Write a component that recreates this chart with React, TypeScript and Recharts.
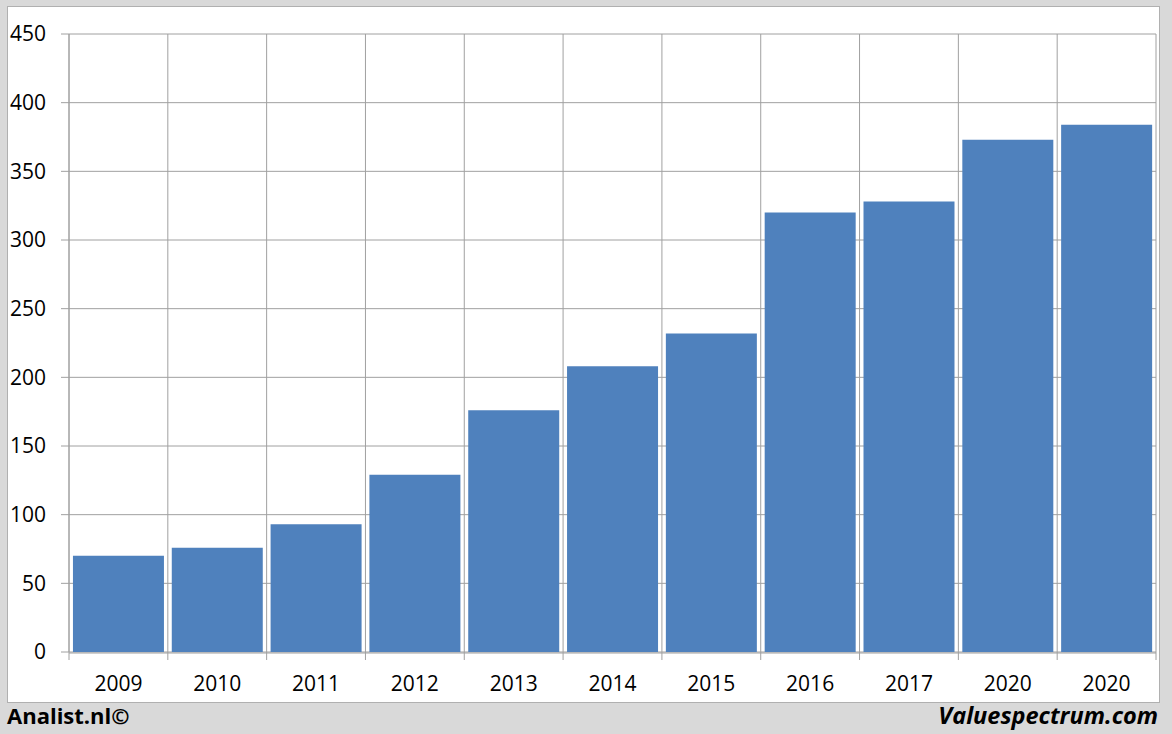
import React from "react";
import { BarChart, Bar, XAxis, YAxis, CartesianGrid } from "recharts";

const years = ["2009", "2010", "2011", "2012", "2013", "2014", "2015", "2016", "2017", "2020", "2020"];
const values = [70, 76, 93, 129, 176, 208, 232, 320, 328, 373, 384];
const yTicks = [0, 50, 100, 150, 200, 250, 300, 350, 400, 450];
const boundaryTicks = [0, 1, 2, 3, 4, 5, 6, 7, 8, 9, 10, 11];

const data = years.map((y, i) => ({ idx: i, label: y, value: values[i] }));

const FONT = "'Open Sans', 'Liberation Sans', sans-serif";
const GRID = "#a0a0a0";

const EmptyTick = () => <g />;

export default function App() {
  return (
    <div style={{ position: "fixed", left: 0, top: 0, width: 1172, height: 734, background: "#d9d9d9", overflow: "hidden", fontFamily: FONT }}>
      <div style={{ position: "absolute", left: 7, top: 6, width: 1151, height: 695, background: "#fff", border: "1px solid #b0b0b0" }} />
      <div style={{ position: "absolute", left: 0, top: 0 }}>
        <BarChart width={1172} height={734} data={data} margin={{ top: 34, right: 16, left: 9, bottom: 42 }} barCategoryGap="4%">
          <CartesianGrid
            xAxisId="a"
            stroke={GRID}
            strokeWidth={1}
            verticalCoordinatesGenerator={({ offset }: any) =>
              boundaryTicks.map((t) => offset.left + (t * offset.width) / boundaryTicks[boundaryTicks.length - 1])
            }
          />
          <XAxis xAxisId="a" type="number" dataKey="idx" domain={[0, 11]} ticks={boundaryTicks} interval={0} allowDataOverflow height={1} tick={EmptyTick} tickSize={8} tickLine={{ stroke: GRID }} axisLine={false} />
          <XAxis xAxisId="b" dataKey="label" type="category" height={39} interval={0} tickLine={false} tickSize={8} tickMargin={15} axisLine={{ stroke: GRID }} tick={{ fill: "#000", fontSize: 21, fontFamily: FONT }} />
          <YAxis width={60} domain={[0, 450]} ticks={yTicks} interval={0} tickSize={8} tickMargin={15} tickLine={{ stroke: GRID }} axisLine={{ stroke: GRID }} tick={{ fill: "#000", fontSize: 21, fontFamily: FONT }} />
          <Bar xAxisId="b" dataKey="value" fill="#4f81bd" isAnimationActive={false} />
        </BarChart>
      </div>
      <div style={{ position: "absolute", left: 7, top: 700, fontWeight: 700, fontSize: 22, color: "#000", fontFamily: FONT }}>Analist.nl©</div>
      <div style={{ position: "absolute", right: 14, top: 699, fontWeight: 700, fontStyle: "italic", fontSize: 23.5, color: "#000", fontFamily: FONT }}>Valuespectrum.com</div>
    </div>
  );
}
